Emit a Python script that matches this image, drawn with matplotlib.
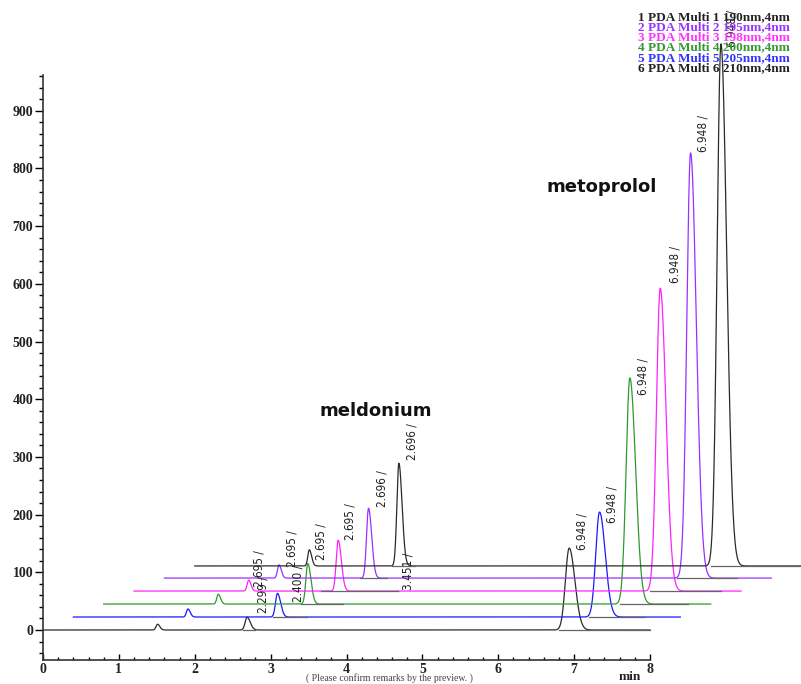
import numpy as np
import matplotlib.pyplot as plt

# traces listed from the bottom of the stack to the top
trace_colors = ['#2b2b2b', '#1a1aff', '#2e9a2e', '#ff22ff', '#9a30ff', '#2b2b2b']
x_shift = [0.0, 0.4, 0.8, 1.2, 1.6, 2.0]
y_shift = [0, 22.5, 45, 67.5, 90, 111]

# peak retention times (min) and heights (mAU) per trace
small_rt = 1.51
small_h = [10, 14, 17, 19, 23, 28]
meld_rt = 2.69
meld_h = [22, 41, 70, 88, 121, 178]
meto_rt = 6.935
meto_h = [142, 182, 392, 525, 737, 905]

# integration baselines (own time of each trace)
meld_base = [(2.63, 2.80), (2.63, 3.08), (2.60, 3.15), (2.47, 3.48), (2.58, 2.93), (2.60, 2.90)]
meto_base = [(6.80, 8.00), (6.80, 7.53), (6.80, 7.70), (6.80, 7.74), (6.75, 7.55), (6.80, 8.00)]

legend_lines = ['1 PDA Multi 1 190nm,4nm', '2 PDA Multi 2 195nm,4nm', '3 PDA Multi 3 198nm,4nm',
                '4 PDA Multi 4 200nm,4nm', '5 PDA Multi 5 205nm,4nm', '6 PDA Multi 6 210nm,4nm']
legend_colors = ['#222222', '#9933ff', '#ff33ff', '#339933', '#3333ff', '#222222']

peak_labels = ['2.695 /', '2.299 /', '2.695 /', '2.400 /', '2.695 /', '2.695 /', '2.696 /', '2.696 /',
               '3.451 /', '6.948 /', '6.948 /', '6.948 /', '6.948 /', '6.948 /', '6.948 /']
label_x = [2.85, 2.90, 3.28, 3.36, 3.66, 4.04, 4.47, 4.86, 4.81, 7.10, 7.50, 7.91, 8.33, 8.70, 9.08]
label_y = [74, 29, 109, 48, 121, 156, 213, 295, 69, 139, 185, 407, 601, 828, 1010]


def peak(t, rt, h, sl, sr):
    s = np.where(t < rt, sl, sr)
    return h * np.exp(-0.5 * ((t - rt) / s) ** 2)


fig = plt.figure(figsize=(8.01, 6.84), dpi=100)
ax = fig.add_axes([43 / 801, 1 - 660 / 684, 607 / 801, (660 - 75) / 684])

t = np.linspace(0, 8, 4001)
for i in range(6):
    sig = (peak(t, small_rt, small_h[i], 0.02, 0.03)
           + peak(t, meld_rt, meld_h[i], 0.026, 0.042)
           + peak(t, meto_rt, meto_h[i], 0.05, 0.075))
    ax.plot(t + x_shift[i], sig + y_shift[i], color=trace_colors[i], lw=0.9, clip_on=False)
    for a, b in (meld_base[i], meto_base[i]):
        ax.plot([a + x_shift[i], b + x_shift[i]], [y_shift[i], y_shift[i]],
                color='#666666', lw=0.9, clip_on=False)

for s, x, y in zip(peak_labels, label_x, label_y):
    ax.text(x, y, s, rotation=90, ha='center', va='bottom', fontsize=8.5,
            family='DejaVu Sans', stretch='condensed', color='#222222', clip_on=False)

ax.text(4.39, 380, 'meldonium', ha='center', va='center', fontsize=13,
        fontweight='bold', family='DejaVu Sans', color='#111111')
ax.text(7.36, 768, 'metoprolol', ha='center', va='center', fontsize=13,
        fontweight='bold', family='DejaVu Sans', color='#111111')

ax.set_xlim(0, 8)
ax.set_ylim(-52, 962)
for side in ('top', 'right'):
    ax.spines[side].set_visible(False)
for side in ('left', 'bottom'):
    ax.spines[side].set_linewidth(1.2)
    ax.spines[side].set_color('#333333')

ax.set_xticks(range(0, 9))
ax.set_xticks(np.arange(0, 8.01, 0.2), minor=True)
ax.set_yticks(range(0, 1000, 100))
ax.set_yticks(range(-40, 962, 20), minor=True)
ax.tick_params(axis='x', which='major', direction='in', length=4, width=1, pad=2)
ax.tick_params(axis='x', which='minor', direction='in', length=2, width=1)
ax.tick_params(axis='y', which='major', direction='out', length=6, width=1, pad=1)
ax.tick_params(axis='y', which='minor', direction='out', length=3, width=1)
for lab in ax.get_xticklabels() + ax.get_yticklabels():
    lab.set_family('Liberation Serif')
    lab.set_fontweight('bold')
    lab.set_fontsize(10)
    lab.set_color('#222222')

for k, (s, c) in enumerate(zip(legend_lines, legend_colors)):
    fig.text(638 / 801, 1 - (17 + 10.2 * k) / 684, s, ha='left', va='center',
             fontsize=9.5, fontweight='bold', family='Liberation Serif', color=c)

fig.text(630 / 801, 1 - 677 / 684, 'min', ha='center', va='center', fontsize=9.5,
         fontweight='bold', family='Liberation Serif', color='#222222')
fig.text(389 / 801, 1 - 678 / 684, '( Please confirm remarks by the preview. )',
         ha='center', va='center', fontsize=7, family='Liberation Serif', color='#444444')

fig.savefig('out.png', dpi=100)
